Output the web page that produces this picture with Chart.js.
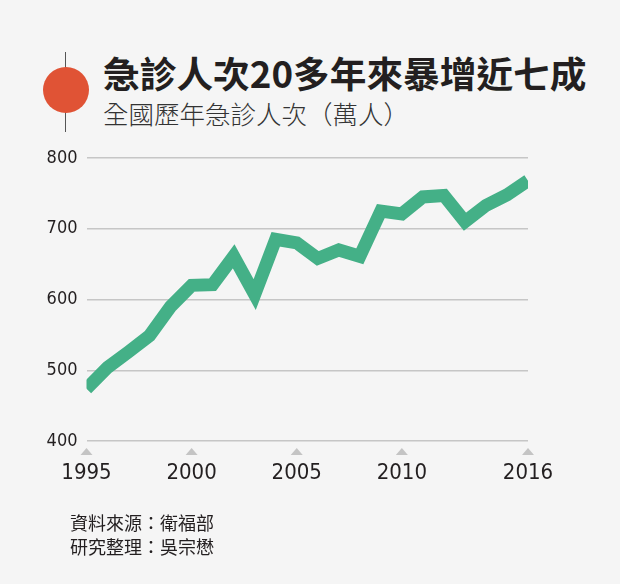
<!DOCTYPE html>
<html>
<head>
<meta charset="utf-8">
<script src="https://cdn.jsdelivr.net/npm/chart.js@4/dist/chart.umd.min.js"></script>
<style>
  html, body { margin: 0; padding: 0; background: #f5f5f5; }
  #wrap { position: relative; width: 620px; height: 584px; overflow: hidden; background: #f5f5f5; }
  #chart { position: absolute; left: 0; top: 0; }
  .txt { position: absolute; font-family: "Noto Sans CJK TC", "Noto Sans", sans-serif; white-space: nowrap; }
  #title { left: 103px; top: 54px; font-size: 36.7px; line-height: 36.7px; font-weight: 700; color: #231f20; }
  #subtitle { left: 103px; top: 100px; font-size: 25.5px; line-height: 25.5px; font-weight: 300; color: #333; }
  #source { left: 70px; top: 510px; font-size: 18px; line-height: 24px; color: #231f20; }
  #stem { position: absolute; left: 65px; top: 52px; width: 1px; height: 80px; background: #555; }
  #dot { position: absolute; left: 43px; top: 67px; width: 46px; height: 46px; border-radius: 50%; background: #e05335; }
</style>
</head>
<body>
<div id="wrap">
  <div id="stem"></div>
  <div id="dot"></div>
  <div class="txt" id="title">急診人次20多年來暴增近七成</div>
  <div class="txt" id="subtitle">全國歷年急診人次（萬人）</div>
  <canvas id="chart" width="620" height="584"></canvas>
  <div class="txt" id="source">資料來源：衛福部<br>研究整理：吳宗懋</div>
</div>
<script>
// 연도별 급진 인원 (만 명)
const years = ['1995', '1996', '1997', '1998', '1999', '2000', '2001', '2002', '2003', '2004', '2005',
    '2006', '2007', '2008', '2009', '2010', '2011', '2012', '2013', '2014', '2015', '2016'];
const visits = [474, 504, 526, 549, 590, 620, 621, 661, 607, 685, 680,
    658, 670, 661, 725, 721, 745, 747, 710, 733, 748, 768];
const shownYears = ['1995', '2000', '2005', '2010', '2016'];
const yTicks = [400, 500, 600, 700, 800];

const axisFont = "'DejaVu Sans Condensed', 'Liberation Sans', sans-serif";

// x축 눈금 아래 삼각형 표시
const tickMarks = {
    id: 'tickMarks',
    afterDraw(chart) {
        const ctx = chart.ctx;
        const x = chart.scales.x;
        const base = chart.chartArea.bottom;
        ctx.save();
        ctx.fillStyle = '#c4c4c4';
        shownYears.forEach(y => {
            const px = x.getPixelForValue(years.indexOf(y));
            ctx.beginPath();
            ctx.moveTo(px, base + 7);
            ctx.lineTo(px + 6, base + 14);
            ctx.lineTo(px - 6, base + 14);
            ctx.closePath();
            ctx.fill();
        });
        ctx.restore();
    }
};

new Chart(document.getElementById('chart'), {
    type: 'line',
    data: {
        labels: years,
        datasets: [{
            data: visits,
            borderColor: '#44b087',
            borderWidth: 13,
            borderJoinStyle: 'miter',
            borderCapStyle: 'butt',
            pointRadius: 0,
            tension: 0,
            fill: false,
            clip: { left: 0, right: 0, top: 20, bottom: 20 }
        }]
    },
    options: {
        responsive: false,
        animation: false,
        events: [],
        layout: { padding: { left: 0, right: 92, top: 158, bottom: 0 } },
        plugins: { legend: { display: false }, tooltip: { enabled: false }, title: { display: false } },
        scales: {
            x: {
                offset: false,
                grid: { display: false, drawTicks: false },
                border: { display: false },
                afterFit(scale) { scale.height = 143; },
                ticks: {
                    autoSkip: false,
                    maxRotation: 0,
                    padding: 19,
                    color: '#231f20',
                    font: { family: axisFont, size: 22 },
                    callback(v) {
                        const label = years[v];
                        return shownYears.includes(label) ? label : '';
                    }
                }
            },
            y: {
                min: 400,
                max: 800,
                afterFit(scale) { scale.width = 86.5; },
                afterBuildTicks(scale) { scale.ticks = yTicks.map(v => ({ value: v })); },
                grid: { color: '#c6c6c6', lineWidth: 1.5, drawTicks: false },
                border: { display: false },
                ticks: {
                    padding: 9,
                    color: '#231f20',
                    font: { family: axisFont, size: 18 }
                }
            }
        }
    },
    plugins: [tickMarks]
});
</script>
</body>
</html>
